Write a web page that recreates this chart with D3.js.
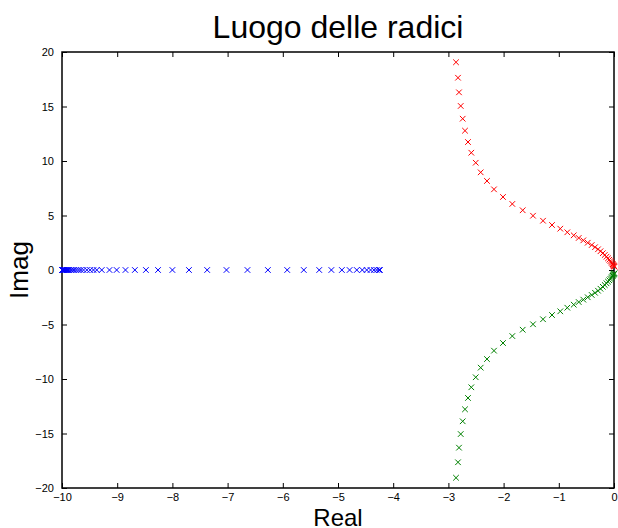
<!DOCTYPE html>
<html>
<head>
<meta charset="utf-8">
<script src="https://cdn.jsdelivr.net/npm/d3@7"></script>
<style>
  html, body { margin: 0; padding: 0; background: #fff; }
  svg { display: block; }
  .tick text { font-family: "Liberation Sans", Arial, sans-serif; font-size: 11px; fill: #000; }
  .title, .label { font-family: "Liberation Sans", Arial, sans-serif; fill: #000; }
</style>
</head>
<body>
<svg id="chart" width="618" height="528"></svg>
<script>
// root locus branches
const blueRe = [-10, -9.995, -9.99, -9.98, -9.97, -9.96, -9.945, -9.93, -9.91, -9.89, -9.87, -9.84, -9.81,
  -9.78, -9.74, -9.70, -9.66, -9.61, -9.55, -9.49, -9.43, -9.37, -9.28, -9.14, -9.01, -8.85, -8.68, -8.48,
  -8.26, -8.00, -7.70, -7.37, -7.02, -6.64, -6.27, -5.92, -5.62, -5.34, -5.12, -4.93, -4.79, -4.66, -4.56,
  -4.48, -4.41, -4.35, -4.30, -4.26, -4.24];
const blueIm = blueRe.map(() => 0);

const redRe = [-2.862, -2.826, -2.808, -2.777, -2.741, -2.699, -2.645, -2.585, -2.505, -2.415, -2.301, -2.174,
  -2.011, -1.842, -1.654, -1.467, -1.286, -1.123, -0.973, -0.846, -0.730, -0.639, -0.556, -0.476, -0.404,
  -0.344, -0.290, -0.245, -0.203, -0.167, -0.136, -0.109, -0.085, -0.065, -0.049, -0.034, -0.022, -0.013,
  -0.005, 0.0, 0.01];
const redIm = [19.06, 17.64, 16.30, 15.05, 13.88, 12.78, 11.74, 10.76, 9.84, 8.96, 8.17, 7.40, 6.70, 6.06,
  5.48, 4.98, 4.52, 4.13, 3.79, 3.46, 3.18, 2.94, 2.72, 2.50, 2.29, 2.09, 1.90, 1.72, 1.54, 1.38, 1.22, 1.07,
  0.94, 0.82, 0.71, 0.61, 0.53, 0.46, 0.40, 0.35, 0.30];

const greenRe = [-2.862, -2.826, -2.808, -2.777, -2.741, -2.699, -2.645, -2.585, -2.505, -2.415, -2.301, -2.174,
  -2.011, -1.842, -1.654, -1.467, -1.286, -1.123, -0.973, -0.846, -0.730, -0.639, -0.556, -0.476, -0.404,
  -0.344, -0.290, -0.245, -0.203, -0.167, -0.136, -0.109, -0.085, -0.065, -0.049, -0.034, -0.022, -0.013,
  -0.005, 0.0, 0.01];
const greenIm = [-19.06, -17.64, -16.30, -15.05, -13.88, -12.78, -11.74, -10.76, -9.84, -8.96, -8.17, -7.40,
  -6.70, -6.06, -5.48, -4.98, -4.52, -4.13, -3.79, -3.46, -3.18, -2.94, -2.72, -2.50, -2.29, -2.09, -1.90,
  -1.72, -1.54, -1.38, -1.22, -1.07, -0.94, -0.82, -0.71, -0.61, -0.53, -0.46, -0.40, -0.35, -0.30];

const xTicks = [-10, -9, -8, -7, -6, -5, -4, -3, -2, -1, 0];
const yTicks = [-20, -15, -10, -5, 0, 5, 10, 15, 20];

const series = [
  { re: blueRe, im: blueIm, color: '#0000ff' },
  { re: redRe, im: redIm, color: '#ff0000' },
  { re: greenRe, im: greenIm, color: '#008000' },
];

const plotL = 62, plotR = 614, plotT = 52, plotB = 488;
const svg = d3.select('#chart');

const x = d3.scaleLinear().domain([-10, 0]).range([plotL, plotR]);
const y = d3.scaleLinear().domain([-20, 20]).range([plotB, plotT]);

const fmt = (d) => (d < 0 ? '\u2212' + Math.abs(d) : String(d));

// axes with inward ticks, MATLAB-style box
function styleAxis(g) {
  g.select('.domain').remove();
  g.selectAll('.tick line').attr('stroke', '#000').attr('stroke-width', 1);
}

svg.append('g')
  .attr('transform', `translate(0,${plotB})`)
  .call(d3.axisBottom(x).tickValues(xTicks).tickFormat(fmt).tickSizeInner(-5).tickSizeOuter(0).tickPadding(5))
  .call(styleAxis);

svg.append('g')
  .attr('transform', `translate(0,${plotT})`)
  .call(d3.axisTop(x).tickValues(xTicks).tickFormat('').tickSizeInner(-5).tickSizeOuter(0))
  .call(styleAxis);

svg.append('g')
  .attr('transform', `translate(${plotL},0)`)
  .call(d3.axisLeft(y).tickValues(yTicks).tickFormat(fmt).tickSizeInner(-5).tickSizeOuter(0).tickPadding(8))
  .call(styleAxis);

svg.append('g')
  .attr('transform', `translate(${plotR},0)`)
  .call(d3.axisRight(y).tickValues(yTicks).tickFormat('').tickSizeInner(-5).tickSizeOuter(0))
  .call(styleAxis);

svg.append('rect')
  .attr('x', plotL).attr('y', plotT)
  .attr('width', plotR - plotL).attr('height', plotB - plotT)
  .attr('fill', 'none').attr('stroke', '#000').attr('stroke-width', 1.5);

// x markers
const s = 2.8;
for (const ser of series) {
  const pts = ser.re.map((r, i) => [x(r), y(ser.im[i])]);
  svg.append('g')
    .selectAll('path')
    .data(pts)
    .join('path')
    .attr('d', ([px, py]) => `M${px - s},${py - s}L${px + s},${py + s}M${px - s},${py + s}L${px + s},${py - s}`)
    .attr('stroke', ser.color)
    .attr('stroke-width', 1)
    .attr('fill', 'none');
}

svg.append('text')
  .attr('class', 'title')
  .attr('x', (plotL + plotR) / 2).attr('y', 38)
  .attr('text-anchor', 'middle')
  .attr('font-size', 32)
  .text('Luogo delle radici');

svg.append('text')
  .attr('class', 'label')
  .attr('x', (plotL + plotR) / 2).attr('y', 526)
  .attr('text-anchor', 'middle')
  .attr('font-size', 24)
  .text('Real');

svg.append('text')
  .attr('class', 'label')
  .attr('transform', `translate(28,${(plotT + plotB) / 2}) rotate(-90)`)
  .attr('text-anchor', 'middle')
  .attr('font-size', 26)
  .text('Imag');
</script>
</body>
</html>
